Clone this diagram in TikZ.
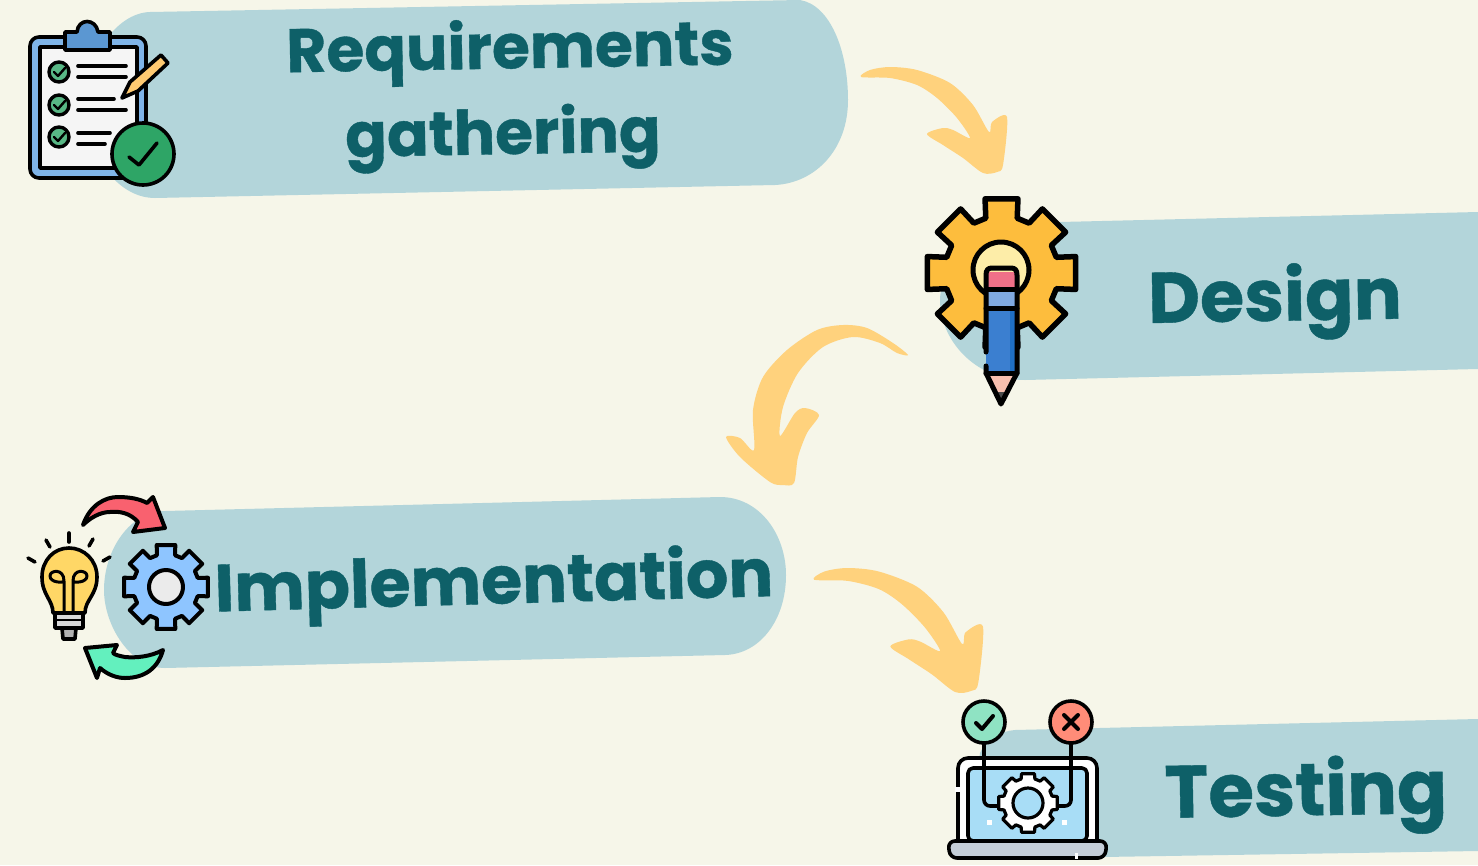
\documentclass[tikz,border=0pt]{standalone}
\usepackage{fontspec}
\setmainfont{Poppins}[BoldFeatures={FakeBold=0.6}]
\definecolor{paper}{HTML}{F6F6E9}
\definecolor{ribbon}{HTML}{B3D5DA}
\definecolor{ink}{HTML}{0E6068}
\definecolor{swoosh}{HTML}{FFD27D}
\definecolor{clipblue}{HTML}{7FB4E8}
\definecolor{clipdark}{HTML}{5B97D2}
\definecolor{tickgreen}{HTML}{2EA566}
\definecolor{gearyellow}{HTML}{FDBD3D}
\definecolor{holeyellow}{HTML}{FDEDA8}
\definecolor{pencilblue}{HTML}{3B7FD0}
\definecolor{pencildark}{HTML}{1F6FC4}
\definecolor{eraserpink}{HTML}{F07088}
\definecolor{bandblue}{HTML}{80A9E0}
\definecolor{woodpink}{HTML}{F8BFAE}
\definecolor{bulbyellow}{HTML}{FFD766}
\definecolor{gearblue}{HTML}{8EC5FF}
\definecolor{arrowred}{HTML}{F9616F}
\definecolor{arrowgreen}{HTML}{63F0BE}
\definecolor{screenblue}{HTML}{A8DDF6}
\definecolor{basegray}{HTML}{C5CED8}
\definecolor{yesgreen}{HTML}{8FE3C3}
\definecolor{nored}{HTML}{FF8C78}
\tikzset{
  ribbonbox/.style={fill=ribbon},
  ribbontext/.style={text=ink, font=\fontsize{#1}{#1}\selectfont\bfseries, inner sep=0pt},
  swooshline/.style={fill=swoosh},
  icon/.style={draw=black, line width=3.6pt, line join=round, line cap=round},
}
% gear outline, at the origin of the current shift
\newcommand{\cogpath}[2]{(-16:#2) \foreach \a in {0,45,...,315} { -- (\a-16:#2) -- (\a-12.5:#1) -- (\a+12.5:#1) -- (\a+16:#2) } -- cycle}
% hand drawn arrow, local coordinates
\newcommand{\swooshpath}{plot[smooth cycle, tension=0.5] coordinates {(0,10) (9,3) (29,0) (56,3) (89,16) (112,38) (128,65) (131,55) (146,50) (142,98) (136,105) (122,106) (102,91) (82,78) (66,67) (82,61) (92,63) (109,71) (96,51) (76,31) (56,18) (29,11)}}
\begin{document}
\begin{tikzpicture}[x=1pt, y=-1pt]
    \fill[paper] (0,0) rectangle (1478,865);
    \useasboundingbox (0,0) rectangle (1478,865);

    % Ribbons
    \fill[ribbonbox] (150,12) -- (800,0) .. controls (830,5) and (848,50) .. (848,100) .. controls (848,150) and (815,183) .. (775,185) -- (155,198) .. controls (115,198) and (85,150) .. (85,105) .. controls (85,60) and (115,13) .. (150,12) -- cycle;
    \fill[ribbonbox] (1060,222) -- (1478,212) -- (1478,369) -- (1025,380) .. controls (975,380) and (940,340) .. (940,300) .. controls (940,260) and (1000,224) .. (1060,222) -- cycle;
    \fill[ribbonbox] (165,511) -- (720,497) .. controls (760,497) and (786,535) .. (786,575) .. controls (786,620) and (760,654) .. (725,655) -- (165,668) .. controls (130,668) and (104,625) .. (104,590) .. controls (104,550) and (130,511) .. (165,511) -- cycle;
    \fill[ribbonbox] (1015,730) -- (1478,719) -- (1478,851) -- (1040,858) .. controls (975,850) and (975,790) .. (980,753) .. controls (985,740) and (1000,731) .. (1015,730) -- cycle;

    % Labels
    \node[ribbontext=61.5, rotate=1] (Req) at (510,52) {Requirements};
    \node[ribbontext=61.5, rotate=1] (Gath) at (503,138) {gathering};
    \node[ribbontext=71.5, rotate=1] (Des) at (1275,302) {Design};
    \node[ribbontext=66.6, rotate=1.6] (Impl) at (494,586) {Implementation};
    \node[ribbontext=74, rotate=1] (Test) at (1306,796) {Testing};

    % Arrows between the steps
    \begin{scope}[shift={(861,67)}]
        \fill[swooshline] \swooshpath;
    \end{scope}
    \begin{scope}[shift={(814,568)}, xscale=1.157, yscale=1.17]
        \fill[swooshline] \swooshpath;
    \end{scope}
    \fill[swooshline] plot[smooth cycle, tension=0.5] coordinates {(908,355) (893,343) (867,328) (843,325) (817,330) (787,350) (763,377) (753,410) (754,450) (740,438) (726,437) (740,457) (770,482) (783,485) (794,483) (798,457) (807,433) (819,415) (805,408) (795,413) (780,436) (783,407) (798,373) (823,347) (853,337) (880,343) (897,353)};

    % Clipboard icon
    \draw[icon, fill=clipblue, rounded corners=9pt] (30,37) rectangle (146,178);
    \draw[icon, fill=white!92!gray] (40,47) rectangle (137,168);
    \draw[icon, fill=clipdark] (65,50) -- (65,32) -- (77,32) .. controls (78,18) and (96,18) .. (98,32) -- (110,32) -- (110,50) -- cycle;
    \foreach \y in {72,105,137} {
        \draw[icon, fill=tickgreen!80!white, line width=3.4pt] (59,\y) circle (10);
        \draw[icon, line width=2.4pt] (54,\y) -- (58,\y+4) -- (65,\y-4);
    }
    \foreach \y/\xa in {66/126, 77/126, 99/114, 110/126, 133/110, 144/105} {
        \draw[icon] (78,\y) -- (\xa,\y);
    }
    \draw[icon, fill=swoosh!90!orange] (122,98) -- (130,82) -- (161,55) -- (168,63) -- (138,91) -- cycle;
    \draw[icon, fill=tickgreen] (143,154) circle (31);
    \draw[icon] (129,157) -- (139,165) -- (157,143);

    % Gear and pencil icon
    \draw[icon, fill=gearyellow, line width=5.5pt, shift={(1001.5,273)}] \cogpath{76}{57};
    \draw[icon, fill=holeyellow, line width=5pt] (1001,270) circle (28);
    \fill[eraserpink] (986,272) rectangle (1017,290);
    \fill[bandblue] (986,290) rectangle (1017,307);
    \fill[pencilblue] (986,307) rectangle (1017,373);
    \fill[pencildark] (1010,307) rectangle (1017,373);
    \fill[woodpink] (986,373) -- (1017,373) -- (1001,403) -- cycle;
    \fill[black!70] (995,392) -- (1008,392) -- (1001,404) -- cycle;
    \draw[icon, line width=5pt] (986,352) -- (986,275) .. controls (986,270) and (988,268) .. (992,268) -- (1011,268) .. controls (1015,268) and (1017,270) .. (1017,275) -- (1017,373) -- (1001,404) -- (986,373) -- (986,366);
    \draw[icon, line width=5pt] (986,289) -- (1017,289);
    \draw[icon, line width=5pt] (986,308) -- (1017,308);
    \draw[icon, line width=5pt] (986,373) -- (1017,373);

    % Bulb, gear and turning arrows icon
    \draw[icon, fill=bulbyellow] (53,613) .. controls (53,600) and (42,595) .. (42,577) .. controls (42,560) and (54,548) .. (69,548) .. controls (84,548) and (97,560) .. (97,577) .. controls (97,595) and (85,600) .. (85,613) -- cycle;
    \draw[icon, fill=gray!30] (55,613) rectangle (83,628);
    \draw[icon, fill=gray!60] (62,628) -- (76,628) -- (75,639) -- (63,639) -- cycle;
    \draw[icon, line width=2.4pt] (55,620) -- (83,620);
    \draw[icon, line width=3pt] (64,612) -- (64,581) (73,612) -- (73,581) (64,581) .. controls (64,568) and (50,570) .. (50,576) .. controls (50,583) and (64,583) .. (64,581) (73,581) .. controls (73,568) and (87,570) .. (87,576) .. controls (87,583) and (73,583) .. (73,581);
    \foreach \a/\b/\c/\d in {69/533/69/542, 46/540/50/547, 93/539/89/546, 28/558/35/562, 110/557/103/561} {
        \draw[icon] (\a,\b) -- (\c,\d);
    }
    \draw[icon, fill=gearblue, line width=4pt, shift={(166,587)}] \cogpath{43}{33};
    \draw[icon, fill=black!8, line width=4pt] (166,587) circle (17);
    \draw[icon, fill=arrowred, line width=4pt] (83,525) .. controls (90,505) and (105,497) .. (118,497) .. controls (130,497) and (140,499) .. (147,503) -- (153,497) -- (165,528) -- (133,532) -- (138,522) .. controls (130,513) and (120,511) .. (110,512) .. controls (100,512) and (90,518) .. (83,525) -- cycle;
    \draw[icon, fill=arrowgreen, line width=4pt] (163,650) .. controls (150,657) and (135,658) .. (125,657) .. controls (120,656) and (115,655) .. (113,653) -- (117,645) -- (85,648) -- (97,678) -- (100,668) .. controls (108,675) and (117,678) .. (125,678) .. controls (145,678) and (158,668) .. (163,650) -- cycle;

    % Laptop icon
    \draw[icon, fill=white, rounded corners=10pt] (958,841) -- (958,758) -- (1097,758) -- (1097,841);
    \draw[icon, fill=screenblue, rounded corners=5pt] (968,841) -- (968,768) -- (1087,768) -- (1087,841) -- cycle;
    \fill[white] (955,787) rectangle (961,792);
    \draw[icon, rounded corners=6pt] (984,743) -- (984,806) -- (1000,806);
    \draw[icon, rounded corners=6pt] (1071,743) -- (1071,806) -- (1056,806);
    \draw[icon, fill=white, line width=3.2pt, shift={(1028,803)}] \cogpath{30}{25};
    \draw[icon, fill=screenblue, line width=3.2pt] (1028,803) circle (15);
    \fill[white] (987,820) rectangle (992,825);
    \fill[white] (1062,820) rectangle (1067,825);
    \draw[icon, fill=basegray, rounded corners=7pt] (948,841) -- (1107,841) -- (1105,858) -- (950,858) -- cycle;
    \fill[white] (1075,853) rectangle (1078,859);
    \draw[icon, fill=yesgreen] (984,722) circle (21);
    \draw[icon, line width=4pt] (976,723) -- (982,729) -- (993,716);
    \draw[icon, fill=nored] (1071,722) circle (21);
    \draw[icon, line width=4pt] (1064,715) -- (1078,729) (1078,715) -- (1064,729);
\end{tikzpicture}
\end{document}
